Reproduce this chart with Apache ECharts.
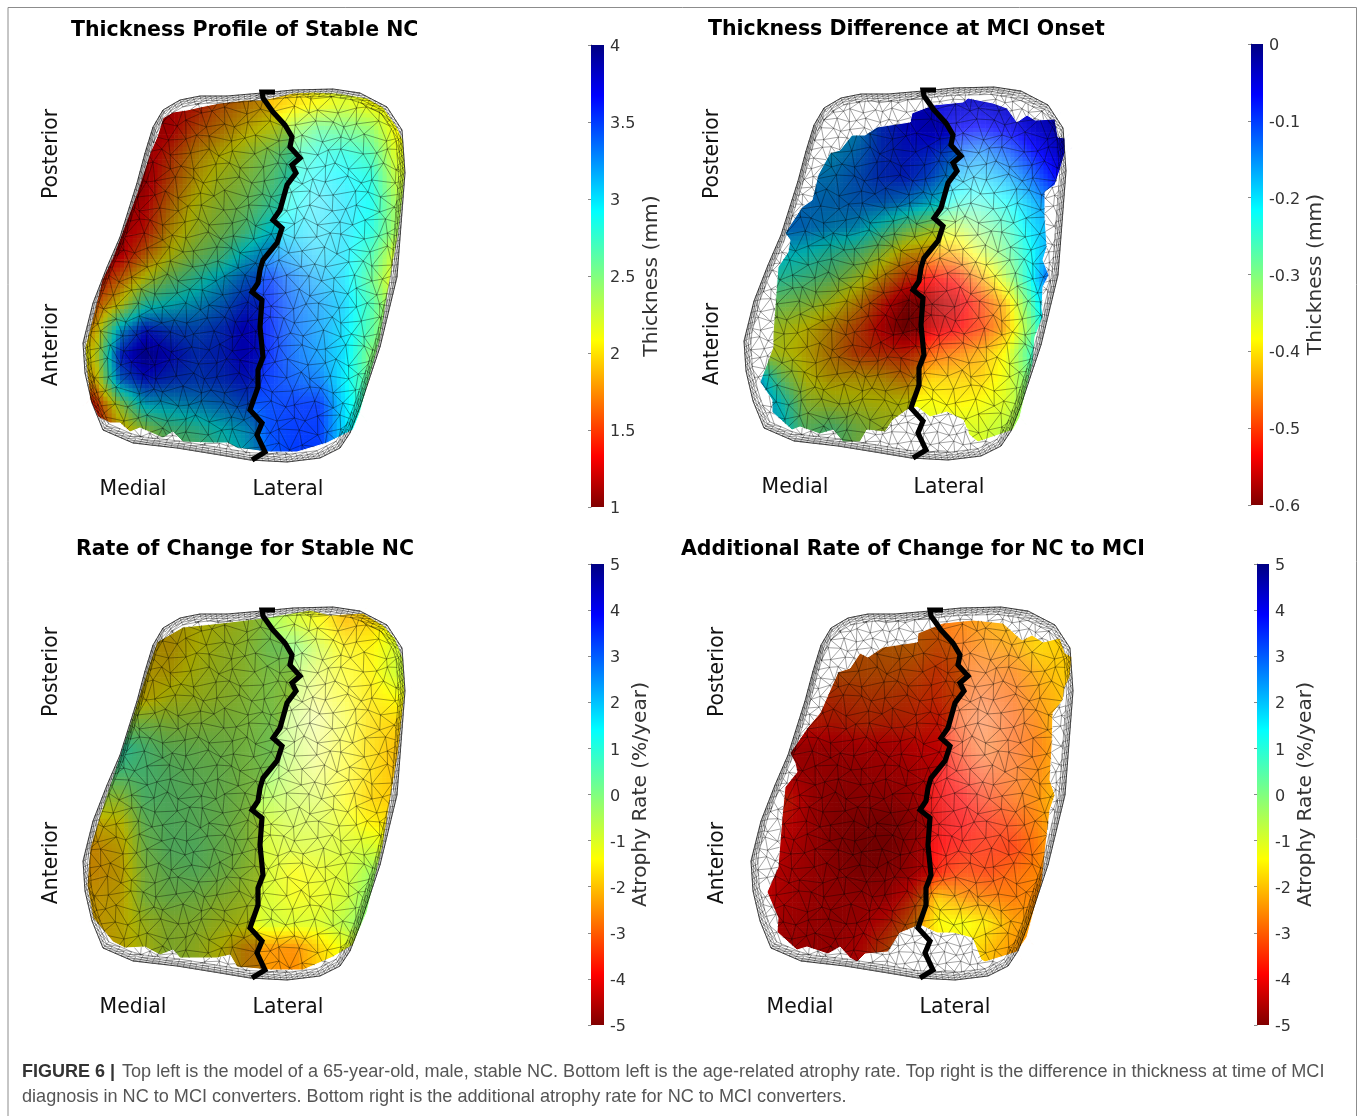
<!DOCTYPE html>
<html><head><meta charset="utf-8">
<style>html,body{margin:0;padding:0;background:#fff}#c{width:1358px;height:1116px}</style>
<script src="https://cdn.jsdelivr.net/npm/echarts@6/dist/echarts.min.js"></script>
</head><body><div id="c"></div>
<script>
// ---------- surface sampling positions (axis units) ----------
const nodeX=[70,95,120,145,170,195,220,245,270,295,320,345,370,395,420];
const nodeY=[80,105,130,155,180,205,230,255,280,305,330,355,380,405,430,455,480];

// ---------- values ----------
const thicknessNC=[
[1.3,1.3,1.3,1.3,1.3,1.4,1.65,1.8,1.9,2.0,2.1,2.2,2.1,2.05,2.0],
[1.3,1.3,1.3,1.3,1.3,1.4,1.65,1.8,1.9,2.0,2.1,2.2,2.1,2.05,2.0],
[1.2,1.2,1.2,1.2,1.3,1.6,1.8,2.0,2.15,2.4,2.6,2.55,2.45,2.1,2.0],
[1.2,1.2,1.2,1.2,1.5,1.85,2.05,2.25,2.45,2.7,2.85,2.85,2.7,2.2,2.1],
[1.2,1.2,1.2,1.2,1.6,1.95,2.2,2.35,2.55,2.85,2.95,2.95,2.85,2.3,2.1],
[1.2,1.2,1.2,1.3,1.75,2.1,2.3,2.45,2.7,2.9,3.0,3.0,2.9,2.4,2.1],
[1.2,1.2,1.2,1.4,1.9,2.2,2.4,2.6,2.95,3.0,3.0,3.0,2.85,2.4,2.1],
[1.2,1.2,1.25,1.7,2.1,2.4,2.6,3.0,3.25,3.15,3.05,3.0,2.7,2.2,2.1],
[1.3,1.3,1.7,2.15,2.5,2.75,3.05,3.35,3.5,3.3,3.15,3.0,2.6,2.1,2.1],
[1.6,1.6,2.1,2.8,2.95,3.1,3.3,3.55,3.55,3.35,3.2,3.05,2.7,2.2,2.1],
[1.9,1.9,3.1,3.6,3.45,3.4,3.5,3.7,3.55,3.35,3.2,3.0,2.65,2.2,2.1],
[2.1,2.1,3.55,3.85,3.65,3.5,3.55,3.7,3.55,3.35,3.2,3.0,2.5,2.3,2.2],
[1.9,1.9,3.3,3.6,3.5,3.45,3.5,3.6,3.5,3.4,3.3,2.95,2.55,2.4,2.2],
[1.4,1.4,2.3,3.0,3.05,3.15,3.25,3.4,3.45,3.5,3.5,3.0,2.6,2.5,2.3],
[1.3,1.3,1.9,2.3,2.6,2.7,2.9,3.1,3.45,3.5,3.5,3.0,2.7,2.5,2.3],
[1.3,1.3,1.9,2.3,2.4,2.5,2.7,3.0,3.4,3.5,3.5,3.0,2.7,2.5,2.3],
[1.3,1.3,1.9,2.3,2.4,2.5,2.7,3.0,3.4,3.5,3.5,3.0,2.7,2.5,2.3]];
const thicknessDiff=[
[-.17,-.17,-.17,-.17,-.17,-.17,-.1,-.07,-.05,-.04,-.04,-.03,-.03,-.02,-.02],
[-.17,-.17,-.17,-.17,-.17,-.17,-.1,-.07,-.05,-.04,-.04,-.03,-.03,-.02,-.02],
[-.2,-.2,-.2,-.2,-.2,-.18,-.1,-.07,-.05,-.06,-.07,-.06,-.04,-.02,-.02],
[-.2,-.2,-.2,-.19,-.18,-.15,-.1,-.08,-.09,-.13,-.15,-.12,-.08,-.04,-.03],
[-.16,-.16,-.16,-.16,-.16,-.13,-.1,-.09,-.12,-.18,-.19,-.17,-.13,-.07,-.05],
[-.15,-.15,-.15,-.15,-.15,-.14,-.14,-.16,-.2,-.24,-.24,-.22,-.18,-.13,-.1],
[-.14,-.14,-.14,-.15,-.17,-.18,-.24,-.3,-.34,-.35,-.3,-.26,-.2,-.16,-.12],
[-.18,-.18,-.2,-.22,-.25,-.28,-.34,-.42,-.44,-.43,-.36,-.29,-.22,-.14,-.1],
[-.24,-.24,-.25,-.27,-.3,-.35,-.43,-.5,-.53,-.52,-.44,-.34,-.22,-.08,-.07],
[-.3,-.3,-.31,-.33,-.37,-.43,-.51,-.58,-.58,-.56,-.5,-.42,-.27,-.1,-.08],
[-.34,-.34,-.36,-.39,-.43,-.48,-.54,-.59,-.56,-.54,-.5,-.43,-.3,-.14,-.1],
[-.36,-.36,-.37,-.4,-.44,-.49,-.5,-.51,-.48,-.46,-.43,-.38,-.26,-.17,-.14],
[-.17,-.16,-.3,-.38,-.41,-.41,-.42,-.45,-.41,-.41,-.41,-.37,-.29,-.2,-.2],
[-.17,-.15,-.22,-.34,-.36,-.37,-.38,-.38,-.38,-.39,-.38,-.36,-.3,-.25,-.25],
[-.17,-.17,-.2,-.3,-.28,-.32,-.35,-.36,-.36,-.36,-.36,-.34,-.3,-.25,-.25],
[-.17,-.17,-.2,-.3,-.28,-.32,-.35,-.36,-.36,-.36,-.36,-.34,-.3,-.25,-.25],
[-.17,-.17,-.2,-.3,-.28,-.32,-.35,-.36,-.36,-.36,-.36,-.34,-.3,-.25,-.25]];
const rateNC=[
[-1.8,-1.8,-1.8,-1.8,-1.8,-1.5,-1.2,-.9,-.4,-.9,-1.4,-2,-1.8,-1.2,-.8],
[-1.8,-1.8,-1.8,-1.8,-1.8,-1.5,-1.2,-.9,-.4,-.9,-1.4,-2,-1.8,-1.2,-.8],
[-1.8,-1.8,-1.8,-1.9,-1.9,-1.4,-1,-.7,-.2,-.1,-.9,-1.5,-1.5,-1,-.5],
[-1.8,-1.8,-1.8,-1.8,-1.7,-1.2,-.9,-.7,-.4,-.5,-1.1,-1.4,-1.5,-.9,-.5],
[-1.7,-1.7,-1.7,-1.7,-1.2,-1,-.8,-.6,-.4,-.7,-1.3,-1.4,-1.6,-1.4,-1],
[-.5,-.5,-.5,-.4,-.6,-.6,-.5,-.5,-.3,-.7,-1.2,-1.3,-1.7,-1.8,-1.8],
[1,1,.9,.3,-.1,-.2,-.3,-.4,-.2,-.7,-1.2,-1.4,-1.7,-2,-2],
[.3,.3,.3,.3,.1,-.1,-.2,-.4,-.3,-.8,-1.2,-1.4,-1.7,-2,-2],
[-.8,-.7,-.7,.2,.1,0,-.2,-.4,-.6,-.8,-1,-1.4,-1.8,-1.9,-1.9],
[-1.8,-1.8,-1.5,-.1,.1,0,-.2,-.5,-.9,-.9,-1,-1.2,-1.5,-1.7,-1.7],
[-2.2,-2.2,-1.8,-.3,.1,.1,-.2,-.5,-1,-1,-1,-1,-.9,-1.2,-1],
[-2.2,-2.2,-1.9,-.5,-.1,0,-.3,-.7,-1,-1.4,-1.2,-1,-.4,0,0],
[-2,-2,-1.8,-.5,-.3,-.4,-.7,-.9,-1,-1.3,-1.2,-.9,-.2,.3,.3],
[-2,-2,-1.7,-1,-.7,-.7,-1,-1.2,-.9,-1,-1,-.6,0,.3,.3],
[-2,-2,-1.7,-1.2,-.7,-.9,-1.4,-2.3,-2.4,-2.5,-1.8,-1.2,-.6,0,0],
[-2,-2,-1.7,-1.2,-.7,-.9,-1.4,-2.3,-2.4,-2.5,-1.8,-1.2,-.6,0,0],
[-2,-2,-1.7,-1.2,-.7,-.9,-1.4,-2.3,-2.4,-2.5,-1.8,-1.2,-.6,0,0]];
const rateMCI=[
[-2.8,-2.8,-2.8,-2.8,-2.8,-2.8,-2.8,-2.7,-2.8,-2.6,-2.3,-2,-1.9,-1.9,-1.9],
[-2.8,-2.8,-2.8,-2.8,-2.8,-2.8,-2.8,-2.7,-2.8,-2.6,-2.3,-2,-1.9,-1.9,-1.9],
[-2.8,-2.8,-2.8,-2.8,-2.8,-2.8,-2.7,-2.7,-3,-2.8,-2.5,-2.3,-1.8,-1.9,-1.9],
[-3,-3,-3,-3,-2.9,-2.9,-2.9,-3,-3.3,-2.9,-2.8,-2.7,-2.2,-1.9,-1.9],
[-3.4,-3.4,-3.4,-3.4,-3.3,-3.2,-3.2,-3.3,-3.4,-3,-3,-2.9,-2.4,-2,-2],
[-3.6,-3.6,-3.6,-3.6,-3.6,-3.4,-3.5,-3.5,-3.7,-3.1,-3,-3,-2.6,-1.9,-1.9],
[-4.2,-4.2,-4.2,-4.2,-4.1,-4,-4,-3.9,-3.9,-3.3,-2.9,-3,-2.7,-2.1,-2.1],
[-4.2,-4.2,-4.2,-4.2,-4.2,-4.2,-4.1,-4.1,-4,-3.6,-3.2,-2.9,-2.6,-2,-2],
[-3.5,-3.5,-3.6,-4.2,-4.3,-4.3,-4.3,-4.2,-4,-3.9,-3.4,-2.9,-2.5,-1.8,-1.8],
[-3.6,-3.6,-3.8,-4.2,-4.4,-4.5,-4.6,-4.4,-4.1,-3.9,-3.6,-3.2,-2.6,-1.9,-1.9],
[-3.6,-3.7,-4,-4.2,-4.4,-4.6,-4.6,-4.3,-3.9,-3.7,-3.5,-3.4,-2.7,-2,-2],
[-3.8,-3.8,-4.1,-4.2,-4.3,-4.5,-4.4,-4.2,-3.6,-3.2,-3.3,-2.9,-2.6,-2,-2],
[-3.9,-3.9,-4.1,-4.2,-4.2,-4.2,-4.2,-3.4,-1.9,-2.4,-2.6,-2.7,-2.5,-2.2,-2.2],
[-4.1,-4.1,-4.2,-4.2,-4.2,-4.1,-3.6,-2.7,-1.4,-1.3,-1.6,-2.3,-2.4,-2.4,-2.4],
[-4.2,-4.2,-4.2,-4.2,-4.1,-3.8,-3,-2.6,-1.6,-1.4,-2,-2.4,-2.4,-2.4,-2.4],
[-4.2,-4.2,-4.2,-4.2,-4.1,-3.8,-3,-2.6,-1.6,-1.4,-2,-2.4,-2.4,-2.4,-2.4],
[-4.2,-4.2,-4.2,-4.2,-4.1,-3.8,-3,-2.6,-1.6,-1.4,-2,-2.4,-2.4,-2.4,-2.4]];

// ---------- outlines (axis units) ----------
const outline=[[262,93],[227,96],[200,96],[180,100],[163,110],[153,127],[145,153],[137,183],[120,237],[107,267],[93,303],[83,343],[85,373],[92,403],[103,430],[133,443],[177,448],[220,455],[250,460],[287,462],[320,458],[340,448],[350,433],[360,407],[380,347],[397,277],[405,173],[402,130],[387,107],[360,93],[333,89],[293,90]];
const midline=[[275,92],[262,92],[263,98],[273,112],[285,125],[292,137],[290,147],[300,158],[292,165],[296,173],[287,185],[280,210],[273,220],[282,228],[277,243],[263,260],[260,270],[258,283],[252,292],[262,300],[260,327],[263,357],[258,370],[258,387],[250,410],[262,423],[257,435],[265,452],[252,460]];
const edge1=[[263,100],[293,93],[313,92],[337,93],[367,98],[383,107],[397,127],[403,140],[405,170],[403,197],[398,237],[393,263],[380,340],[360,413],[353,430],[327,443],[297,452],[267,452],[237,448],[228,443],[210,443],[183,442],[173,432],[163,438],[140,428],[130,432],[120,423],[110,423],[98,417],[90,400],[87,373],[85,347],[93,317],[102,280],[113,257],[137,193],[150,153],[157,137],[163,118],[173,112],[187,110],[200,107],[220,103],[247,100]];
const edge2=[[251,115],[272,107],[302,104],[307,100],[332,105],[346,110],[356,124],[366,117],[374,122],[394,121],[397,139],[404,140],[404,155],[399,172],[394,187],[384,194],[384,219],[386,249],[382,262],[388,277],[382,289],[381,310],[382,319],[374,339],[372,365],[366,389],[359,419],[352,432],[317,444],[306,435],[302,422],[286,414],[269,419],[256,409],[246,412],[232,422],[224,434],[206,432],[199,444],[182,444],[172,432],[159,436],[139,429],[131,432],[111,414],[111,402],[99,384],[112,349],[112,335],[117,269],[127,254],[129,242],[124,235],[141,209],[151,202],[157,177],[169,155],[179,152],[191,137],[204,137],[216,129],[249,124]];
const edge3=[[263,100],[310,92],[330,97],[363,95],[383,107],[395,120],[403,140],[405,174],[398,237],[390,284],[383,327],[367,394],[353,427],[333,439],[303,452],[270,452],[237,449],[230,437],[217,440],[180,440],[173,432],[160,437],[145,429],[125,430],[113,424],[93,400],[87,367],[90,330],[100,297],[120,237],[133,197],[150,144],[157,124],[183,109],[203,107],[230,104]];
const edge4=[[250,115],[275,105],[305,102],[335,105],[354,122],[364,117],[375,124],[392,120],[397,135],[404,139],[402,159],[397,169],[395,182],[385,195],[384,229],[382,262],[387,277],[382,292],[380,309],[377,335],[374,365],[367,389],[359,419],[349,434],[317,444],[305,437],[304,420],[285,415],[269,415],[252,407],[232,415],[220,434],[197,436],[189,444],[182,440],[172,429],[160,436],[139,429],[129,432],[109,414],[110,400],[99,374],[110,349],[114,299],[117,269],[129,254],[127,245],[122,235],[140,209],[152,195],[159,179],[170,154],[182,150],[192,135],[200,139],[215,129],[249,124]];

// ---------- text ----------
const panelTitles=["Thickness Profile of Stable NC","Thickness Difference at MCI Onset","Rate of Change for Stable NC","Additional Rate of Change for NC to MCI"];
const barNames=["Thickness (mm)","Thickness (mm)","Atrophy Rate (%/year)","Atrophy Rate (%/year)"];
const barRanges=[[1,4,.5],[-.6,0,.1],[-5,5,1],[-5,5,1]];
const captionBold="FIGURE 6 |";
const captionOne="Top left is the model of a 65-year-old, male, stable NC. Bottom left is the age-related atrophy rate. Top right is the difference in thickness at time of MCI";
const captionTwo="diagnosis in NC to MCI converters. Bottom right is the additional atrophy rate for NC to MCI converters.";

// ---------- layout ----------
const layouts=[
 {ox:0,oy:0,    tx:71, ty:20, bar:[591,45,13,462], gap:38,sheen:1,med:[133,490],lat:[288,490],pos:[52,154],ant:[52,345]},
 {ox:661,oy:-2, tx:708,ty:19, bar:[1251,44,12,461],gap:43,sheen:1,med:[795,488],lat:[949,488],pos:[713,154],ant:[713,344]},
 {ox:0,oy:518,  tx:76, ty:539,bar:[591,564,13,461],gap:27,sheen:1.4,med:[133,1008],lat:[288,1008],pos:[52,672],ant:[52,863]},
 {ox:668,oy:518,tx:681,ty:539,bar:[1257,564,12,461],gap:27,sheen:1,med:[800,1008],lat:[955,1008],pos:[718,672],ant:[718,863]}];
const fields=[thicknessNC,thicknessDiff,rateNC,rateMCI];
const edges=[edge1,edge2,edge3,edge4];

// jet, reversed: t=0 is the top of the colour bar
const jet=[[0,[0,0,130]],[.11,[0,0,255]],[.36,[0,255,255]],[.5,[128,255,128]],[.64,[255,255,0]],[.89,[255,0,0]],[1,[128,0,0]]];
function jetAt(t){t=Math.max(0,Math.min(1,t));for(let i=1;i<jet.length;i++){if(t<=jet[i][0]){const a=jet[i-1],b=jet[i],f=(t-a[0])/(b[0]-a[0]);return [0,1,2].map(k=>a[1][k]+(b[1][k]-a[1][k])*f);}}return jet[6][1];}

// surface lighting: a crease at the midline darkens the medial side, a sheen brightens the lateral side
const shadeX=[70,110,170,230,270],shadeV=[.8,.72,.64,.66,.74];
const sheenX=[255,285,315,345,375,405],sheenY=[100,150,200,250,300,350,400,450];
const sheen=[[0,.07,.1,.07,0,0],[.03,.25,.33,.22,.07,0],[.07,.36,.52,.33,.1,0],[.07,.3,.44,.3,.07,0],[.07,.22,.26,.18,.03,0],[.03,.14,.14,.07,0,0],[.03,.07,.07,.03,0,0],[0,0,0,0,0,0]];
function lerpTable(xs,vs,x){if(x<=xs[0])return vs[0];for(let i=1;i<xs.length;i++)if(x<=xs[i])return vs[i-1]+(vs[i]-vs[i-1])*(x-xs[i-1])/(xs[i]-xs[i-1]);return vs[vs.length-1];}
const midY=midline.slice(2).map(p=>p[1]),midX=midline.slice(2).map(p=>p[0]);
function lit(rgb,x,y,gain){
  const mx=lerpTable(midY,midX,y);
  if(x<mx){const m=lerpTable(shadeX,shadeV,x);return rgb.map(c=>c*m);}
  const col=sheen.map(r=>lerpTable(sheenX,r,x));const k=lerpTable(sheenY,col,y)*gain;
  return rgb.map(c=>c+(255-c)*k);
}
const SUB=6,CENTRE=[245,275];
function scaled(poly,s){return poly.map(p=>[CENTRE[0]+(p[0]-CENTRE[0])*s,CENTRE[1]+(p[1]-CENTRE[1])*s]);}
function inside(q,poly){let c=false;for(let i=0,j=poly.length-1;i<poly.length;j=i++){const a=poly[i],b=poly[j];if((a[1]>q[1])!==(b[1]>q[1])&&q[0]<(b[0]-a[0])*(q[1]-a[1])/(b[1]-a[1])+a[0])c=!c;}return c;}

function cellData(field){const out=[];for(let r=0;r<nodeY.length-1;r++)for(let c=0;c<nodeX.length-1;c++)
  out.push([nodeX[c],nodeY[r],nodeX[c+1],nodeY[r+1],field[r][c],field[r][c+1],field[r+1][c],field[r+1][c+1]]);return out;}

function surfaceSeries(i){
 const [lo,hi]=barRanges[i],hull=scaled(edges[i],1.04),gain=layouts[i].sheen;
 return {type:'custom',coordinateSystem:'cartesian2d',xAxisIndex:i,yAxisIndex:i,z:2,silent:true,clip:true,animation:false,
  encode:{x:[0,2],y:[1,3]},data:cellData(fields[i]),
  renderItem(p,api){
    const x0=api.value(0),y0=api.value(1),x1=api.value(2),y1=api.value(3);
    const a=api.value(4),b=api.value(5),c=api.value(6),d=api.value(7),kids=[];
    const P0=api.coord([x0,y0]),P1=api.coord([x1,y1]),w=(P1[0]-P0[0])/SUB,h=(P1[1]-P0[1])/SUB;
    for(let j=0;j<SUB;j++)for(let k=0;k<SUB;k++){
      const u=(k+.5)/SUB,v=(j+.5)/SUB,x=x0+(x1-x0)*u,y=y0+(y1-y0)*v;
      if(!inside([x,y],hull))continue;
      const val=a*(1-u)*(1-v)+b*u*(1-v)+c*(1-u)*v+d*u*v;
      const rgb=lit(jetAt((hi-val)/(hi-lo)),x,y,gain);
      kids.push({type:'rect',shape:{x:P0[0]+k*w,y:P0[1]+j*h,width:w+.6,height:h+.6},
        style:{fill:`rgb(${rgb[0]|0},${rgb[1]|0},${rgb[2]|0})`}});
    }
    return {type:'group',children:kids};
  }};
}
function maskSeries(i){
 const e=edges[i],data=e.map((p,k)=>[p[0],p[1],e[(k+1)%e.length][0],e[(k+1)%e.length][1]]);
 return {type:'custom',coordinateSystem:'cartesian2d',xAxisIndex:i,yAxisIndex:i,z:3,silent:true,clip:true,animation:false,
  encode:{x:[0,2],y:[1,3]},data,
  renderItem(p,api){
    const a=[api.value(0),api.value(1)],b=[api.value(2),api.value(3)];
    const far=q=>[CENTRE[0]+(q[0]-CENTRE[0])*1.3,CENTRE[1]+(q[1]-CENTRE[1])*1.3];
    return {type:'polygon',shape:{points:[a,b,far(b),far(a)].map(q=>api.coord(q))},style:{fill:'#fff',stroke:'#fff',lineWidth:1}};
  }};
}
// wire mesh: a dense skin at the rim, a coarse lattice over the coloured part, a finer one around it
const wobbleX=[3,-4,1,4,-2,-4,3,0,-3,2,4,-1,-4,3,1,-4,4];
const wobbleY=[-2,3,0,-3,3,1,-3,4,-1,2,-4,3,0,3,-2,-3,2,1,-3];
const ringScale=[1,.988,.975,.96];
const ringStep=[1,1,2];
function resample(poly,step){const o=[];for(let i=0;i<poly.length;i++){const a=poly[i],b=poly[(i+1)%poly.length],n=Math.max(1,Math.round(Math.hypot(b[0]-a[0],b[1]-a[1])/step));for(let k=0;k<n;k++)o.push([a[0]+(b[0]-a[0])*k/n,a[1]+(b[1]-a[1])*k/n]);}return o;}
function clipSeg(lines,a,b,test){
  const ia=test(a),ib=test(b);
  if(ia&&ib){lines.push([a,b]);return;}
  if(!ia&&!ib)return;
  let inP=ia?a:b,outP=ia?b:a;
  for(let t=0;t<7;t++){const m=[(inP[0]+outP[0])/2,(inP[1]+outP[1])/2];if(test(m))inP=m;else outP=m;}
  lines.push([ia?a:b,inP]);
}
function lattice(lines,x0,y0,dx,dy,R,K,amp,test){
  const nodes=[];
  for(let r=0;r<R;r++){const row=[];for(let c=0;c<K;c++){const n=r*K+c;
    row.push([x0+c*dx+(r%2?dx/2:0)+wobbleX[n%17]*amp,y0+r*dy+wobbleY[n%19]*amp]);}nodes.push(row);}
  for(let r=0;r<R;r++)for(let c=0;c<K;c++){
    const a=nodes[r][c];
    if(c<K-1)clipSeg(lines,a,nodes[r][c+1],test);
    if(r<R-1){clipSeg(lines,a,nodes[r+1][c],test);const o=r%2?c+1:c-1;if(o>=0&&o<K)clipSeg(lines,a,nodes[r+1][o],test);}
  }
}
const rimLines=(()=>{
  const lines=[],ring=resample(outline,6),rings=ringScale.map(s=>scaled(ring,s));
  rings.forEach((r,k)=>{
    const st=ringStep[Math.min(k,2)],n=r.length,ringLine=[];
    for(let i=0;i<=n;i+=st)ringLine.push(r[i%n]);lines.push(ringLine);
    if(k>=rings.length-1)return;
    const q=rings[k+1],z=[];
    for(let i=0;i<=n;i+=st){z.push(r[i%n]);z.push(q[(i+st)%n]);}lines.push(z);
  });
  return lines;
})();
function buildMesh(i){
  const lines=rimLines.slice(),hull=scaled(outline,.965),e=edges[i];
  lattice(lines,58,82,15.5,14,29,26,1,q=>inside(q,hull)&&inside(q,e));
  lattice(lines,60,84,10.5,9.5,41,36,.6,q=>inside(q,hull)&&!inside(q,e));
  return lines;
}
const meshSets=[0,1,2,3].map(buildMesh);
function meshSeries(i){
 const set=meshSets[i];
 return {type:'custom',coordinateSystem:'cartesian2d',xAxisIndex:i,yAxisIndex:i,z:4,silent:true,clip:false,animation:false,
  data:set.map((_,k)=>[k]),
  renderItem(p,api){const pts=set[api.value(0)].map(q=>api.coord(q));
    return {type:'polyline',shape:{points:pts},style:{fill:'none',stroke:'rgba(0,0,0,.6)',lineWidth:.6}};}};
}
function lineSeries(i,pts,width,color,z,close){
 return {type:'line',xAxisIndex:i,yAxisIndex:i,z,silent:true,animation:false,symbol:'none',clip:false,
  data:close?pts.concat([pts[0]]):pts,lineStyle:{width,color,join:'miter'}};
}
function barSeries(i){
 const [lo,hi]=barRanges[i];
 return {type:'custom',coordinateSystem:'cartesian2d',xAxisIndex:4+i,yAxisIndex:4+i,z:2,silent:true,animation:false,
  data:[[0,lo,1,hi]],encode:{x:[0,2],y:[1,3]},
  renderItem(p,api){const a=api.coord([api.value(0),api.value(3)]),b=api.coord([api.value(2),api.value(1)]);
    return {type:'rect',shape:{x:a[0],y:a[1],width:b[0]-a[0],height:b[1]-a[1]},
     style:{fill:{type:'linear',x:0,y:0,x2:0,y2:1,colorStops:jet.map(s=>({offset:s[0],color:`rgb(${s[1].join(',')})`}))}}};}};
}
const FF='"DejaVu Sans"';
const grids=[],xAxes=[],yAxes=[],series=[],graphics=[],titles=[];
layouts.forEach((L,i)=>{
  grids.push({left:70+L.ox,top:80+L.oy,width:360,height:400});
  xAxes.push({type:'value',gridIndex:i,min:70,max:430,show:false});
  yAxes.push({type:'value',gridIndex:i,min:80,max:480,inverse:true,show:false});
  series.push(surfaceSeries(i),maskSeries(i),meshSeries(i),lineSeries(i,outline,.7,'rgba(0,0,0,.8)',5,true),lineSeries(i,midline,5.2,'#000',6,false));
  titles.push({text:panelTitles[i],left:L.tx,top:L.ty,padding:0,textStyle:{fontFamily:FF,fontWeight:'bold',fontSize:20.5,color:'#000'}});
  [['Medial',L.med,0],['Lateral',L.lat,0],['Posterior',L.pos,Math.PI/2],['Anterior',L.ant,Math.PI/2]].forEach(t=>{
    graphics.push({type:'text',z:100,x:t[1][0],y:t[1][1],rotation:t[2],style:{text:t[0],fontFamily:FF,fontSize:20.4,fill:'#111',textAlign:'center',textVerticalAlign:'middle'}});
  });
});
layouts.forEach((L,i)=>{
  const [lo,hi,step]=barRanges[i],b=L.bar,g=4+i;
  grids.push({left:b[0],top:b[1],width:b[2],height:b[3],show:false});
  xAxes.push({type:'value',gridIndex:g,min:0,max:1,show:false});
  yAxes.push({type:'value',gridIndex:g,position:'right',min:lo,max:hi,interval:step,splitLine:{show:false},
    axisLine:{show:true,lineStyle:{color:'#8a8a8a',width:1}},axisTick:{show:true,inside:true,length:3,lineStyle:{color:'#8a8a8a'}},
    axisLabel:{show:false},
    name:barNames[i],nameLocation:'middle',nameRotate:90,nameGap:L.gap,nameTextStyle:{fontFamily:FF,fontSize:20.2,color:'#333'}});
  series.push(barSeries(i));
});
// tick labels sit 2px below their ticks, as in the reference: a companion axis carries them
layouts.forEach((L,i)=>{
  const [lo,hi,step]=barRanges[i],b=L.bar,g=8+i;
  grids.push({left:b[0],top:b[1]+2,width:b[2],height:b[3],show:false});
  xAxes.push({type:'value',gridIndex:g,min:0,max:1,show:false});
  yAxes.push({type:'value',gridIndex:g,position:'right',min:lo,max:hi,interval:step,splitLine:{show:false},
    axisLine:{show:false},axisTick:{show:false},
    axisLabel:{fontFamily:FF,fontSize:16,color:'#333',margin:6,showMinLabel:true,showMaxLabel:true}});
});
const frameC='#8c8c8c';
graphics.push(
 {type:'line',shape:{x1:8,y1:7.5,x2:1356.5,y2:7.5},style:{stroke:frameC,lineWidth:1}},
 {type:'line',shape:{x1:8,y1:7.5,x2:8,y2:1116},style:{stroke:frameC,lineWidth:1}},
 {type:'line',shape:{x1:1356.5,y1:7.5,x2:1356.5,y2:1116},style:{stroke:frameC,lineWidth:1}},
 {type:'text',x:22,y:1072,style:{text:captionBold,fontFamily:'"Liberation Sans"',fontWeight:'bold',fontSize:18,fill:'#333',textVerticalAlign:'middle'}},
 {type:'text',x:122,y:1072,style:{text:captionOne,fontFamily:'"Liberation Sans"',fontSize:18.09,fill:'#555',textVerticalAlign:'middle'}},
 {type:'text',x:22,y:1097,style:{text:captionTwo,fontFamily:'"Liberation Sans"',fontSize:18.1,fill:'#555',textVerticalAlign:'middle'}}
);
const chart=echarts.init(document.getElementById('c'),null,{renderer:'canvas'});
chart.setOption({animation:false,backgroundColor:'#fff',title:titles,grid:grids,xAxis:xAxes,yAxis:yAxes,series,graphic:graphics});
</script></body></html>
